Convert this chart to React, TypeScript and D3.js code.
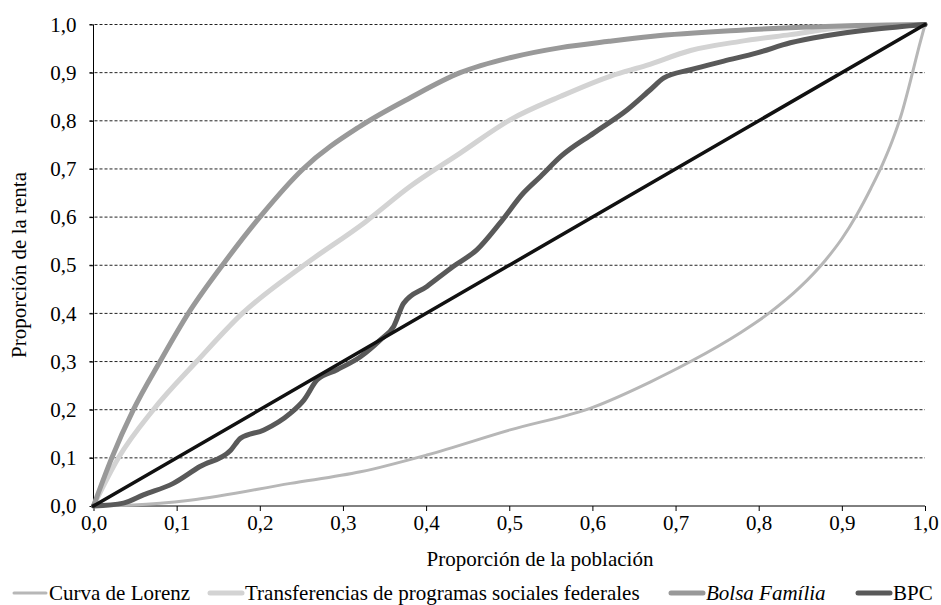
import React, { useEffect, useRef } from 'react';
import * as d3 from 'd3';

// x = proporción de la población, y = proporción de la renta
const lorenz: [number, number][] = [
  [0, 0], [0.048, 0.002], [0.116, 0.012], [0.237, 0.047], [0.321, 0.071], [0.401, 0.106],
  [0.501, 0.158], [0.602, 0.206], [0.67, 0.258], [0.718, 0.3], [0.778, 0.36], [0.812, 0.4],
  [0.85, 0.455], [0.88, 0.51], [0.9, 0.555], [0.918, 0.605], [0.935, 0.66], [0.949, 0.71],
  [0.961, 0.76], [0.971, 0.81], [0.985, 0.9], [0.993, 0.955], [1, 1],
];

const transferencias: [number, number][] = [
  [0, 0], [0.03, 0.1], [0.072, 0.2], [0.124, 0.3], [0.179, 0.4], [0.253, 0.5], [0.327, 0.59],
  [0.381, 0.664], [0.441, 0.733], [0.501, 0.802], [0.562, 0.851], [0.622, 0.893], [0.665, 0.915],
  [0.718, 0.946], [0.778, 0.965], [0.838, 0.979], [0.899, 0.993], [1, 1],
];

const bolsaFamilia: [number, number][] = [
  [0, 0], [0.022, 0.1], [0.048, 0.2], [0.08, 0.3], [0.114, 0.4], [0.155, 0.5], [0.2, 0.6],
  [0.252, 0.7], [0.321, 0.789], [0.381, 0.848], [0.441, 0.9], [0.501, 0.931], [0.562, 0.952],
  [0.62, 0.965], [0.67, 0.975], [0.778, 0.988], [0.899, 0.997], [1, 1],
];

const bpc: [number, number][] = [
  [0, 0], [0.036, 0.006], [0.06, 0.023], [0.096, 0.047], [0.128, 0.082], [0.165, 0.116],
  [0.177, 0.141], [0.205, 0.158], [0.237, 0.193], [0.253, 0.22], [0.269, 0.262], [0.293, 0.283],
  [0.321, 0.31], [0.345, 0.345], [0.361, 0.373], [0.373, 0.421], [0.401, 0.456], [0.433, 0.498],
  [0.461, 0.532], [0.489, 0.588], [0.517, 0.65], [0.538, 0.685], [0.562, 0.726], [0.602, 0.775],
  [0.642, 0.823], [0.67, 0.865], [0.686, 0.889], [0.718, 0.906], [0.758, 0.924], [0.798, 0.941],
  [0.838, 0.962], [0.879, 0.976], [0.939, 0.99], [1, 1],
];

const igualdad: [number, number][] = [[0, 0], [1, 1]];

const ticks = [0, 0.1, 0.2, 0.3, 0.4, 0.5, 0.6, 0.7, 0.8, 0.9, 1];

const FONT = '"Liberation Serif", "Times New Roman", serif';

const series = [
  { name: 'Curva de Lorenz', data: lorenz, color: '#b7b7b7', width: 3, italic: false },
  { name: 'Transferencias de programas sociales federales', data: transferencias, color: '#d3d3d3', width: 5, italic: false },
  { name: 'Bolsa Família', data: bolsaFamilia, color: '#999999', width: 5, italic: true },
  { name: 'BPC', data: bpc, color: '#595959', width: 5, italic: false },
];

const fmt = (d: number) => d3.format('.1f')(d).replace('.', ',');

const App = () => {
  const ref = useRef<SVGSVGElement>(null);

  useEffect(() => {
    const svg = d3.select(ref.current);
    svg.selectAll('*').remove();

    const x = d3.scaleLinear().domain([0, 1]).range([93.5, 925]);
    const y = d3.scaleLinear().domain([0, 1]).range([506, 24.5]);

    // gridlines
    svg.append('g')
      .selectAll('line')
      .data(ticks.filter((t) => t > 0))
      .enter()
      .append('line')
      .attr('x1', x(0) - 4)
      .attr('x2', x(1))
      .attr('y1', (d) => y(d))
      .attr('y2', (d) => y(d))
      .attr('stroke', '#222')
      .attr('stroke-width', 1)
      .attr('stroke-dasharray', '3,2');

    // y axis
    const yAxis = svg.append('g')
      .attr('transform', `translate(${x(0)},0)`)
      .call(d3.axisLeft(y).tickValues(ticks).tickSize(4).tickPadding(13).tickFormat((d) => fmt(+d)));
    yAxis.select('.domain').attr('stroke', '#000').attr('d', `M0,${y(0)}V${y(1)}`);
    yAxis.selectAll('.tick line').attr('stroke', '#000');
    yAxis.selectAll('text').attr('font-family', FONT).attr('font-size', 21).attr('fill', '#000');

    // x axis
    const xAxis = svg.append('g')
      .attr('transform', `translate(0,${y(0)})`)
      .call(d3.axisBottom(x).tickValues(ticks).tickSize(5).tickPadding(4).tickFormat((d) => fmt(+d)));
    xAxis.select('.domain').attr('stroke', '#000').attr('d', `M${x(0)},0H${x(1)}`);
    xAxis.selectAll('.tick line').attr('stroke', '#000');
    xAxis.selectAll('text').attr('font-family', FONT).attr('font-size', 21).attr('fill', '#000');

    const line = d3.line<[number, number]>()
      .x((d) => x(d[0]))
      .y((d) => y(d[1]))
      .curve(d3.curveMonotoneX);

    series.forEach((s) => {
      svg.append('path')
        .datum(s.data)
        .attr('d', line)
        .attr('fill', 'none')
        .attr('stroke', s.color)
        .attr('stroke-width', s.width)
        .attr('stroke-linejoin', 'round')
        .attr('stroke-linecap', 'round');
    });

    svg.append('path')
      .datum(igualdad)
      .attr('d', line)
      .attr('fill', 'none')
      .attr('stroke', '#111')
      .attr('stroke-width', 3.5)
      .attr('stroke-linecap', 'round');

    // axis titles
    svg.append('text')
      .attr('x', 540)
      .attr('y', 566)
      .attr('text-anchor', 'middle')
      .attr('font-family', FONT)
      .attr('font-size', 21)
      .text('Proporción de la población');

    svg.append('text')
      .attr('transform', `translate(26,265) rotate(-90)`)
      .attr('text-anchor', 'middle')
      .attr('font-family', FONT)
      .attr('font-size', 21)
      .text('Proporción de la renta');

    // legend
    const legendX = [13, 209, 670, 857];
    const legend = svg.append('g');
    series.forEach((s, i) => {
      const g = legend.append('g').attr('transform', `translate(${legendX[i]},593)`);
      g.append('line')
        .attr('x1', 1)
        .attr('x2', 33)
        .attr('stroke', s.color)
        .attr('stroke-width', s.width)
        .attr('stroke-linecap', 'round');
      g.append('text')
        .attr('x', 36)
        .attr('y', 7)
        .attr('font-family', FONT)
        .attr('font-size', 21)
        .attr('font-style', s.italic ? 'italic' : 'normal')
        .text(s.name);
    });
  }, []);

  return (
    <svg
      ref={ref}
      width={941}
      height={605}
      style={{ position: 'absolute', left: 0, top: 0, background: '#fff' }}
    />
  );
};

export default App;
